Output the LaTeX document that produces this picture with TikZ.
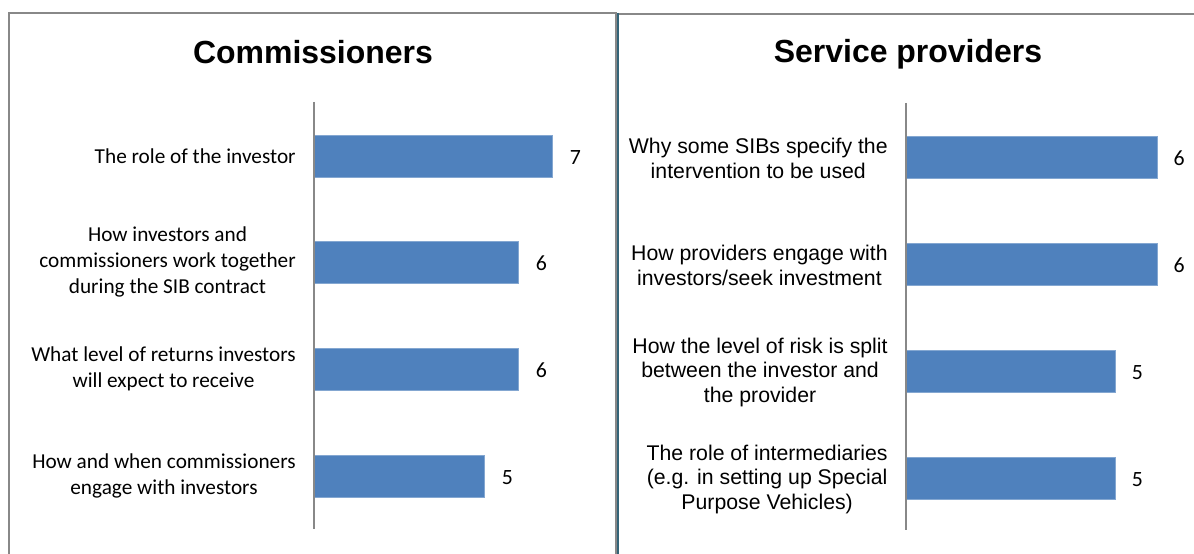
\documentclass[tikz,border=0pt]{standalone}
\usepackage{fontspec}
\setmainfont{Carlito}
\newfontfamily\arialfont{Liberation Sans}
\usetikzlibrary{positioning}

\definecolor{barblue}{RGB}{79,129,189}
\definecolor{framegray}{RGB}{136,136,136}
\definecolor{frameteal}{RGB}{52,100,120}

\begin{document}
\begin{tikzpicture}[
  x=0.02cm, y=-0.02cm,
  node distance=0.36cm,
  title/.style={font=\arialfont\bfseries\fontsize{18.2}{22}\selectfont},
  itemL/.style={align=center, inner sep=0pt, font=\fontsize{12.1}{14.8}\selectfont},
  itemR/.style={align=center, inner sep=0pt, yshift=-0.03cm, font=\arialfont\fontsize{12.1}{14}\selectfont},
  value/.style={inner sep=0pt, yshift=-0.03cm, font=\fontsize{12.4}{14}\selectfont},
  barL/.style={fill=barblue, draw=barblue!70!white, line width=0.3pt, inner sep=0pt, anchor=west, minimum height=0.84cm, minimum width=#1*0.68cm},
  barR/.style={fill=barblue, draw=barblue!70!white, line width=0.3pt, inner sep=0pt, anchor=west, minimum height=0.84cm, minimum width=#1*0.836cm},
  axisline/.style={draw=framegray, line width=0.8pt},
  frame/.style={draw=framegray, line width=1.1pt},
  frameedge/.style={draw=frameteal, line width=1.1pt}
]
\useasboundingbox (0,0) rectangle (1194,554);

% Panels
\draw[frame] (9,554) -- (9,13) -- (616,13) -- (616,554);
\draw[frame] (619,14) -- (1194,14);
\draw[frameedge] (618,13) -- (618,554);

% Titles
\node[title] (commtitle) at (313,52) {Commissioners};
\node[title] (provtitle) at (908,54) {Service providers};

% Commissioners
\node[barL=7] (roleinv) at (314,156) {};
\node[barL=6] (worktog) at (314,262) {};
\node[barL=6] (returns) at (314,369) {};
\node[barL=5] (engage) at (314,476) {};

\node[itemL, left=of roleinv] (roleinvtxt) {The role of the investor};
\node[itemL, left=of worktog] (worktogtxt) {How investors and\\commissioners work together\\during the SIB contract};
\node[itemL, left=of returns] (returnstxt) {What level of returns investors\\will expect to receive};
\node[itemL, left=of engage] (engagetxt) {How and when commissioners\\engage with investors};

\node[value, right=0.34cm of roleinv] (roleinvval) {7};
\node[value, right=0.34cm of worktog] (worktogval) {6};
\node[value, right=0.34cm of returns] (returnsval) {6};
\node[value, right=0.34cm of engage] (engageval) {5};

\draw[axisline] (314,102) -- (314,529);

% Service providers
\node[barR=6] (specify) at (906,157) {};
\node[barR=6] (seekinv) at (906,264) {};
\node[barR=5] (risk) at (906,371) {};
\node[barR=5] (intermed) at (906,478) {};

\node[itemR, left=of specify] (specifytxt) {Why some SIBs specify the\\intervention to be used};
\node[itemR, left=of seekinv] (seekinvtxt) {How providers engage with\\investors/seek investment};
\node[itemR, left=of risk] (risktxt) {How the level of risk is split\\between the investor and\\the provider};
\node[itemR, left=of intermed] (intermedtxt) {The role of intermediaries\\(e.g. in setting up Special\\Purpose Vehicles)};

\node[value, right=0.32cm of specify] (specifyval) {6};
\node[value, right=0.32cm of seekinv] (seekinvval) {6};
\node[value, right=0.32cm of risk] (riskval) {5};
\node[value, right=0.32cm of intermed] (intermedval) {5};

\draw[axisline] (906,103) -- (906,530);

\end{tikzpicture}
\end{document}
